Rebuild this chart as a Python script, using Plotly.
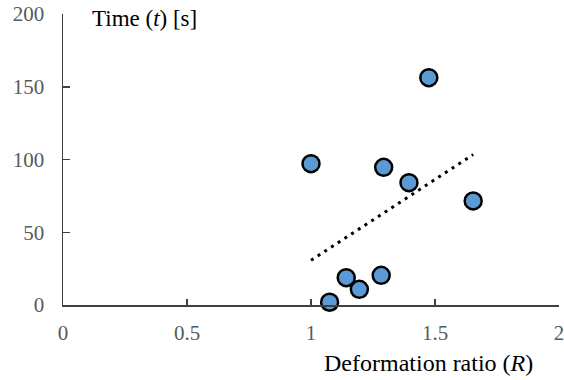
import numpy as np
import plotly.graph_objects as go

# Data
ratio_R = [1.00, 1.475, 1.293, 1.395, 1.654, 1.142, 1.195, 1.283, 1.075]
time_t = [97.1, 156.2, 94.6, 84.1, 71.5, 18.8, 10.8, 20.4, 1.9]

x_ticks = [0, 0.5, 1, 1.5, 2]
x_ticklabels = ["0", "0.5", "1", "1.5", "2"]
y_ticks = [0, 50, 100, 150, 200]
y_ticklabels = ["0", "50", "100", "150", "200"]

# Linear trend line (least squares)
slope, intercept = np.polyfit(ratio_R, time_t, 1)
trend_x = [min(ratio_R), max(ratio_R)]
trend_y = [slope * v + intercept for v in trend_x]

fig = go.Figure()
fig.add_trace(go.Scatter(
    x=trend_x, y=trend_y, mode="lines",
    line=dict(color="black", width=3, dash="3px,5px"),
    hoverinfo="skip", showlegend=False,
))
fig.add_trace(go.Scatter(
    x=ratio_R, y=time_t, mode="markers",
    marker=dict(size=17, color="#5B9BD5", line=dict(color="black", width=2.5)),
    cliponaxis=False, showlegend=False,
))

SERIF = "Liberation Serif, Times New Roman, serif"
tick_font = dict(family=SERIF, size=21, color="#595959")

PLOT_W = 496

fig.update_layout(
    width=564, height=380,
    margin=dict(l=63, r=5, t=14, b=75, autoexpand=False),
    plot_bgcolor="white", paper_bgcolor="white",
    xaxis=dict(
        range=[0, 2], tickvals=x_ticks, ticktext=x_ticklabels,
        showgrid=False, zeroline=False, showline=True, automargin=False,
        linecolor="#404040", linewidth=1.5,
        ticks="inside", ticklen=6, tickcolor="#404040", tickwidth=1.5,
        tickfont=tick_font, ticklabelstandoff=8, ticklabeloverflow="allow",
    ),
    yaxis=dict(
        range=[0, 200], tickvals=y_ticks, ticktext=y_ticklabels,
        showgrid=False, zeroline=False, showline=True, automargin=False,
        linecolor="#404040", linewidth=1.5,
        ticks="inside", ticklen=7, tickcolor="#404040", tickwidth=1.5,
        tickfont=tick_font, ticklabelstandoff=13, ticklabeloverflow="allow",
    ),
    annotations=[
        dict(text="Time (<i>t</i>) [s]", xref="paper", yref="paper",
             x=(90 - 63) / PLOT_W, y=1.0, xanchor="left", yanchor="middle",
             yshift=-4, showarrow=False,
             font=dict(family=SERIF, size=23, color="black")),
        dict(text="Deformation ratio (<i>R</i>)", xref="paper", yref="paper",
             x=(535 - 63) / PLOT_W, y=0, xanchor="right", yanchor="middle",
             yshift=-(363 - 305), showarrow=False,
             font=dict(family=SERIF, size=24, color="black")),
    ],
)

# Remove the default 8px page margin so the figure fills the window
fig.write_html(
    "out.html",
    config={"displayModeBar": False, "staticPlot": True},
    post_script="document.body.style.margin='0';",
)
